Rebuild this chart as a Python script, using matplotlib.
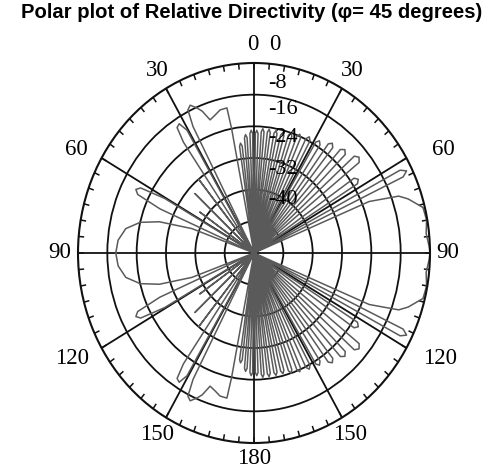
import matplotlib.pyplot as plt
import numpy as np

# relative directivity (dB) over the upper half of the pattern,
# angle measured clockwise from the top, -90 (left) ... 90 (right)
theta_upper = [
    -90, -85, -80, -76, -73, -70, -68,
    -66.5, -65, -63.5, -62, -60.5, -59,
    -55, -51, -47, -43, -39, -36,
    -34.5, -33.5, -32, -30.5, -29.5,
    -27.5, -26.5, -25, -23, -21.5, -19.6, -17, -14.4, -11.4, -11, -10.5,
    -9.2, -8.3, -7.55, -6.8, -5.9, -5.1, -4.4, -3.7, -2.9, -2.1, -1.4, -0.7, 0,
    0.7, 1.4, 2.1, 2.9, 3.7, 4.4, 5.1, 5.9, 6.8, 7.55, 8.3, 9.2,
    10.2, 11.0, 11.8, 12.7, 13.7, 14.55, 15.4, 16.4,
    17.5, 18.4, 19.3, 20.4, 21.6, 22.6, 23.6, 24.8,
    26.1, 27.2, 28.3, 29.6, 31.0, 32.2, 33.4, 34.8,
    36.3, 37.6, 38.9, 40.4, 42.0, 43.5, 45.0, 46.5,
    48.2, 49.8, 51.4, 53.2, 55.3, 56.8, 58.2, 60,
    62.3, 63.5, 64.7, 66.2,
    67.5, 70, 72, 76, 80, 84, 88, 90,
]
db_upper = [
    -10.3, -10.8, -12.5, -16, -21, -30, -48,
    -20, -13, -12, -13, -20, -48,
    -30, -48, -26, -48, -24, -48,
    -14, -10, -9.5, -12, -48,
    -12, -7.6, -6.8, -8.2, -9.5, -12.3, -11.6, -10.7, -10.6, -16, -48,
    -48, -20.8, -20, -20.8, -48, -18.8, -18, -18.8, -48, -17.8, -17, -17.8, -48,
    -17.8, -17, -17.8, -48, -17.3, -16.5, -17.3, -48, -17.3, -16.5, -17.3, -48,
    -17.3, -16.5, -17.3, -48, -17.3, -16.5, -17.3, -48,
    -16.8, -16, -16.8, -48, -16.3, -15.5, -16.3, -48,
    -15.8, -15, -15.8, -48, -15.3, -14.5, -15.3, -48,
    -13.8, -13, -13.8, -48, -12.8, -12, -12.8, -48,
    -11.3, -10.5, -11.3, -48, -14.8, -14, -14.8, -48,
    -3, -1.5, -3, -48,
    -14, -6, -3.8, -0.5, -0.2, -0.8, -0.2, 0,
]

ring_db = [-40, -32, -24, -16, -8]
ring_labels = ["-40", "-32", "-24", "-16", "-8"]
spoke_deg = np.arange(0, 360, 30)

# lower half is the mirror image about the 90 degree line
th_up = np.array(theta_upper, dtype=float)
db_up = np.array(db_upper, dtype=float)
theta = np.concatenate([th_up, 180 - th_up[::-1]])
db = np.concatenate([db_up, db_up[::-1]])

fig = plt.figure(figsize=(5.0, 4.71), dpi=100)
W, H = 500, 471


def px(x, y):
    return x / W, 1 - y / H


# centre (254, 253), half-axes 176 x 190 px
ax = fig.add_axes([(254 - 176) / W, (H - 443) / H, 352 / W, 380 / H],
                  projection='polar')
ax.set_aspect('auto')
ax.set_theta_zero_location('N')
ax.set_theta_direction(-1)
ax.set_ylim(-48, 0)

ax.set_thetagrids(spoke_deg, labels=[''] * len(spoke_deg))
ax.set_rgrids(ring_db, labels=[''] * len(ring_db))
ax.grid(True, color='#111111', lw=1.3)
ax.spines['polar'].set_color('#111111')
ax.spines['polar'].set_linewidth(1.5)
ax.tick_params(length=0)

# small inward ticks every 5 degrees on the rim
tick_th = np.deg2rad(np.arange(0, 360, 5))
ax.vlines(tick_th, -1.5, 0, colors='#111111', lw=1.1)

ax.plot(np.deg2rad(theta), db, color='#5a5a5a', lw=1.1)

serif = ['Liberation Serif', 'DejaVu Serif']
angle_text = [
    ("0", 253, 45), ("0", 275, 45),
    ("30", 157, 71), ("30", 352, 71),
    ("60", 76, 150), ("60", 443, 150),
    ("90", 60, 253), ("90", 448, 253),
    ("120", 72, 358), ("120", 440, 358),
    ("150", 157, 434), ("150", 350, 434),
    ("180", 254, 459),
]
for s, x, y in angle_text:
    fig.text(*px(x, y), s, family=serif, fontsize=16.5,
             ha='center', va='center')

ring_y = [200, 170, 138, 110, 84]
for s, y in zip(ring_labels, ring_y):
    fig.text(*px(268, y), s, family=serif, fontsize=16,
             ha='left', va='center')

fig.text(*px(252, 13), "Polar plot of Relative Directivity (\u03c6= 45 degrees)",
         family=['Liberation Sans', 'DejaVu Sans'], fontweight='bold',
         fontsize=14.6, ha='center', va='center')

fig.savefig('out.png', dpi=100)
